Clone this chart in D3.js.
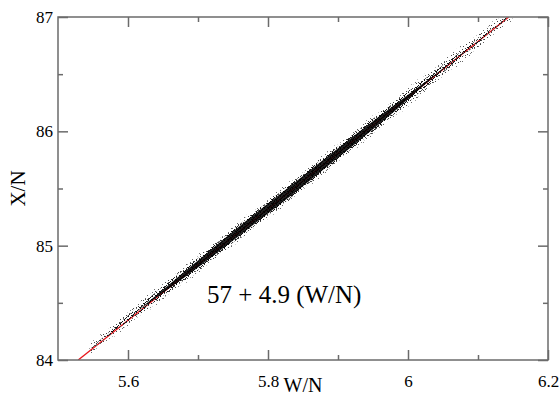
<!DOCTYPE html>
<html>
<head>
<meta charset="utf-8">
<script src="https://cdn.jsdelivr.net/npm/d3@7"></script>
<style>
	body { margin: 0; background: #fff; }
	svg { display: block; }
</style>
</head>
<body>
<div id="chart"></div>
<script>
////////////////////////////////////////
// data
////////////////////////////////////////

var xMajor = [5.6, 5.8, 6, 6.2];
var xMinor = [5.7, 5.9, 6.1];
var yMajor = [84, 85, 86, 87];
var yMinor = [84.5, 85.5, 86.5];

// linear fit drawn in red: X/N = a + b (W/N)
var fitA = 57.03;
var fitB = 4.878;
var fitLabel = "57 + 4.9 (W/N)";

// cloud of points: centre of the band and its half widths (X/N units)
var cloudW      = [5.545, 5.58, 5.62, 5.66, 5.70, 5.74, 5.78, 5.82, 5.86, 5.90, 5.94, 5.98, 6.02, 6.06, 6.10, 6.155];
var cloudMid    = [84.09, 84.265, 84.46, 84.65, 84.84, 85.035, 85.23, 85.42, 85.615, 85.81, 86.005, 86.20, 86.40, 86.595, 86.79, 87.06];
var cloudFringe = [0.050, 0.062, 0.072, 0.080, 0.085, 0.088, 0.090, 0.090, 0.090, 0.090, 0.088, 0.086, 0.084, 0.080, 0.074, 0.060];
var cloudOuter  = [0.036, 0.048, 0.058, 0.064, 0.068, 0.072, 0.074, 0.075, 0.075, 0.074, 0.072, 0.070, 0.066, 0.062, 0.056, 0.042];
var cloudInner  = [0.000, 0.016, 0.032, 0.042, 0.050, 0.055, 0.058, 0.060, 0.060, 0.058, 0.056, 0.050, 0.040, 0.030, 0.018, 0.000];
var cloudCore   = [0, 0, 0.004, 0.018, 0.030, 0.038, 0.042, 0.044, 0.044, 0.042, 0.038, 0.028, 0.012, 0.002, 0, 0];

////////////////////////////////////////

var width  = 560;
var height = 396;
var margin = {top: 17, right: 12, bottom: 36, left: 58};
var axisColor = "#6b6b6b";
var serif = "Liberation Serif";

var svg = d3.select("#chart").append("svg")
	.attr("width", width)
	.attr("height", height);

var x = d3.scaleLinear().domain([5.5, 6.2]).range([margin.left, width - margin.right]);
var y = d3.scaleLinear().domain([84, 87]).range([height - margin.bottom, margin.top]);

// speckle patterns for the edges of the point cloud
var defs = svg.append("defs");

function speckle(id, size, dots, color) {
	var p = defs.append("pattern")
		.attr("id", id)
		.attr("patternUnits", "userSpaceOnUse")
		.attr("width", size).attr("height", size);
	dots.forEach(function(d) {
		p.append("rect").attr("x", d[0]).attr("y", d[1])
			.attr("width", 1).attr("height", 1).attr("fill", color);
	});
}

speckle("fringe", 9, [[1, 1], [6, 3], [3, 7]], "#666");
speckle("sparse", 7, [[0, 0], [4, 2], [1, 4], [5, 5], [3, 6]], "#444");
speckle("dense", 4, [[0, 0], [2, 1], [1, 2], [3, 3], [0, 3]], "#111");

var clip = defs.append("clipPath").attr("id", "plotclip");
clip.append("rect")
	.attr("x", x(5.5)).attr("y", y(87))
	.attr("width", x(6.2) - x(5.5))
	.attr("height", y(84) - y(87));

var plot = svg.append("g").attr("clip-path", "url(#plotclip)");

////////////////////////////////////////
// red fit line (under the points)

var fitData = [(84 - fitA) / fitB, (87 - fitA) / fitB];

plot.append("path")
	.datum(fitData)
	.attr("d", d3.line()
		.x(function(d) { return x(d); })
		.y(function(d) { return y(fitA + fitB * d); }))
	.attr("fill", "none")
	.attr("stroke", "#e8141a")
	.attr("stroke-width", 1.3);

////////////////////////////////////////
// point cloud drawn as layers of speckle

function band(halfs) {
	return d3.area()
		.curve(d3.curveCatmullRom)
		.x(function(d, i) { return x(cloudW[i]); })
		.y0(function(d, i) { return y(cloudMid[i] - halfs[i]); })
		.y1(function(d, i) { return y(cloudMid[i] + halfs[i]); })(cloudW);
}

plot.append("path").attr("d", band(cloudFringe)).attr("fill", "url(#fringe)");
plot.append("path").attr("d", band(cloudOuter)).attr("fill", "url(#sparse)");
plot.append("path").attr("d", band(cloudInner)).attr("fill", "url(#dense)");
plot.append("path").attr("d", band(cloudCore)).attr("fill", "#000").attr("fill-opacity", 0.88);

////////////////////////////////////////
// frame and ticks on all four sides (inward)

svg.append("rect")
	.attr("x", x(5.5)).attr("y", y(87))
	.attr("width", x(6.2) - x(5.5))
	.attr("height", y(84) - y(87))
	.attr("fill", "none")
	.attr("stroke", axisColor)
	.attr("stroke-width", 1.5);

function styleAxis(g) {
	g.attr("font-family", serif).attr("font-size", 17);
	g.select(".domain").remove();
	g.selectAll(".tick line").attr("stroke", axisColor).attr("stroke-width", 1.5);
	g.selectAll("text").attr("fill", "#000");
}

var fmt = function(d) { return String(d); };

svg.append("g")
	.attr("transform", "translate(0," + y(84) + ")")
	.call(d3.axisBottom(x).tickValues(xMajor).tickSize(-10).tickPadding(15).tickFormat(fmt))
	.call(styleAxis);
svg.append("g")
	.attr("transform", "translate(0," + y(84) + ")")
	.call(d3.axisBottom(x).tickValues(xMinor).tickSize(-5).tickFormat(""))
	.call(styleAxis);
svg.append("g")
	.attr("transform", "translate(0," + y(87) + ")")
	.call(d3.axisTop(x).tickValues(xMajor).tickSize(-10).tickFormat(""))
	.call(styleAxis);
svg.append("g")
	.attr("transform", "translate(0," + y(87) + ")")
	.call(d3.axisTop(x).tickValues(xMinor).tickSize(-5).tickFormat(""))
	.call(styleAxis);

svg.append("g")
	.attr("transform", "translate(" + x(5.5) + ",0)")
	.call(d3.axisLeft(y).tickValues(yMajor).tickSize(-10).tickPadding(5).tickFormat(fmt))
	.call(styleAxis);
svg.append("g")
	.attr("transform", "translate(" + x(5.5) + ",0)")
	.call(d3.axisLeft(y).tickValues(yMinor).tickSize(-5).tickFormat(""))
	.call(styleAxis);
svg.append("g")
	.attr("transform", "translate(" + x(6.2) + ",0)")
	.call(d3.axisRight(y).tickValues(yMajor).tickSize(-10).tickFormat(""))
	.call(styleAxis);
svg.append("g")
	.attr("transform", "translate(" + x(6.2) + ",0)")
	.call(d3.axisRight(y).tickValues(yMinor).tickSize(-5).tickFormat(""))
	.call(styleAxis);

////////////////////////////////////////
// labels

svg.append("text")
	.attr("x", (x(5.5) + x(6.2)) / 2)
	.attr("y", 392)
	.attr("text-anchor", "middle")
	.attr("font-family", serif)
	.attr("font-size", 20)
	.text("W/N");

svg.append("text")
	.attr("transform", "translate(25," + ((y(84) + y(87)) / 2) + ") rotate(-90)")
	.attr("text-anchor", "middle")
	.attr("font-family", serif)
	.attr("font-size", 21)
	.text("X/N");

svg.append("text")
	.attr("x", x(5.713))
	.attr("y", y(84.5))
	.attr("font-family", serif)
	.attr("font-size", 25)
	.text(fitLabel);
</script>
</body>
</html>
